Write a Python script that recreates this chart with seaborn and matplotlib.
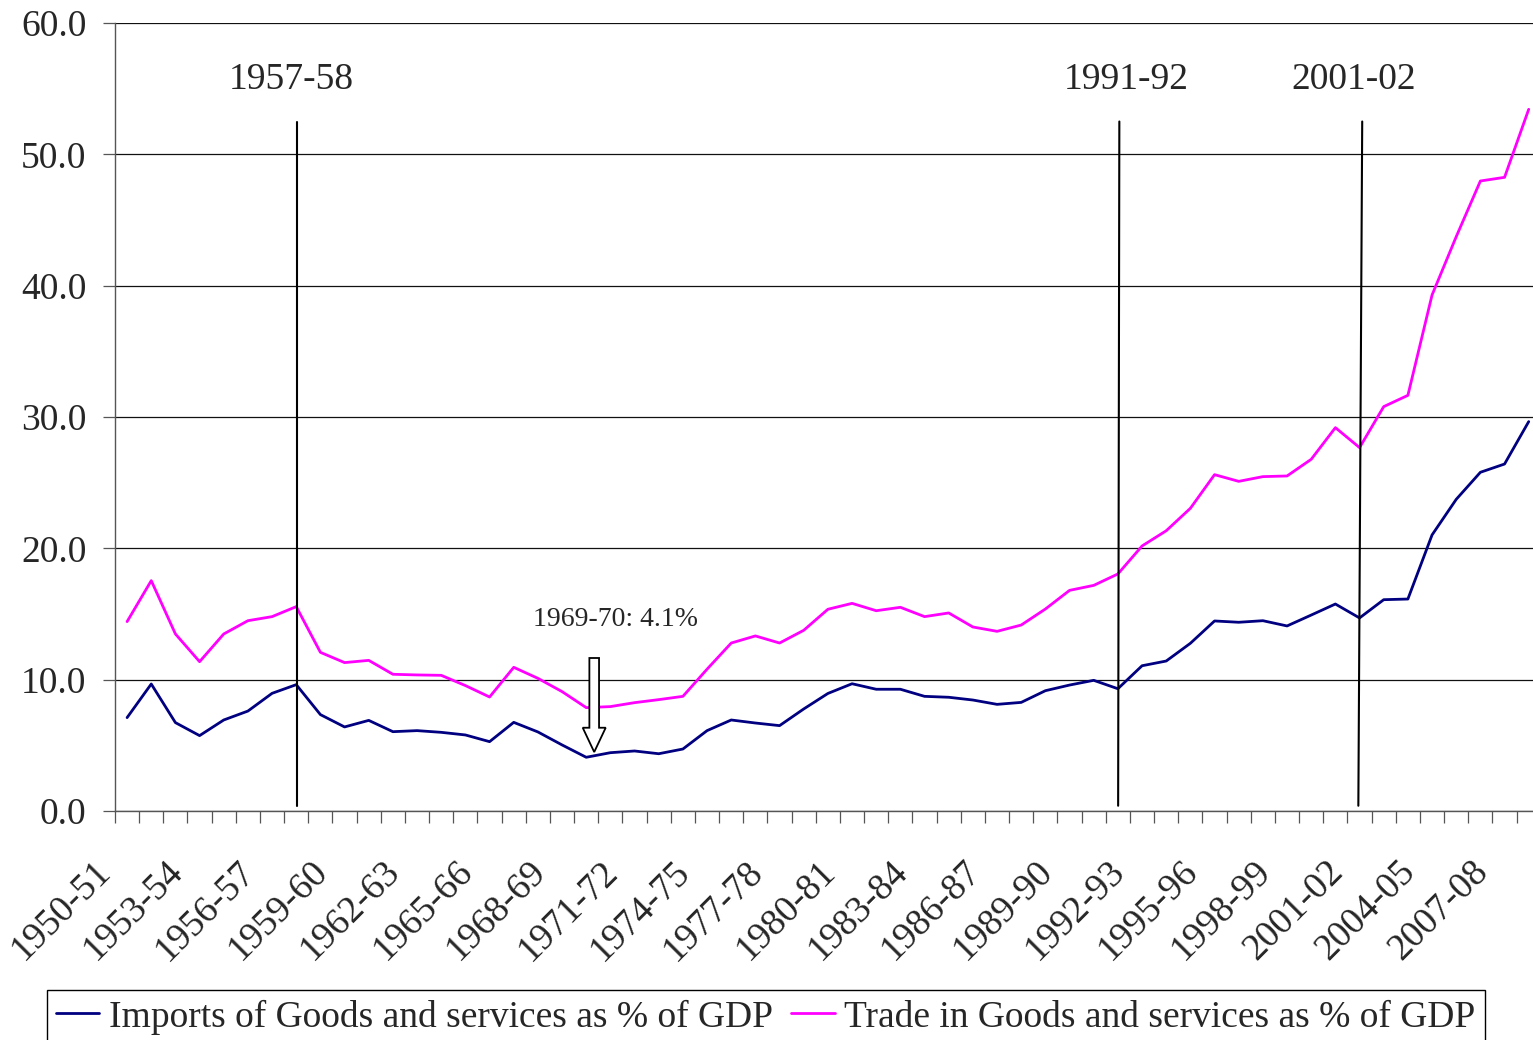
import numpy as np
import pandas as pd
import matplotlib
matplotlib.use("Agg")
import matplotlib.pyplot as plt
import matplotlib.transforms as mtransforms
from matplotlib.patches import FancyArrow
import seaborn as sns

# --- data ---
years = ["1950-51", "1951-52", "1952-53", "1953-54", "1954-55", "1955-56", "1956-57", "1957-58",
         "1958-59", "1959-60", "1960-61", "1961-62", "1962-63", "1963-64", "1964-65", "1965-66",
         "1966-67", "1967-68", "1968-69", "1969-70", "1970-71", "1971-72", "1972-73", "1973-74",
         "1974-75", "1975-76", "1976-77", "1977-78", "1978-79", "1979-80", "1980-81", "1981-82",
         "1982-83", "1983-84", "1984-85", "1985-86", "1986-87", "1987-88", "1988-89", "1989-90",
         "1990-91", "1991-92", "1992-93", "1993-94", "1994-95", "1995-96", "1996-97", "1997-98",
         "1998-99", "1999-00", "2000-01", "2001-02", "2002-03", "2003-04", "2004-05", "2005-06",
         "2006-07", "2007-08", "2008-09"]

imports = [7.11, 9.67, 6.73, 5.74, 6.93, 7.61, 8.96, 9.62, 7.34, 6.40,
           6.90, 6.04, 6.12, 5.99, 5.79, 5.28, 6.75, 6.02, 5.03, 4.09,
           4.44, 4.57, 4.36, 4.72, 6.12, 6.93, 6.70, 6.50, 7.77, 8.95,
           9.69, 9.27, 9.27, 8.73, 8.66, 8.45, 8.12, 8.27, 9.16, 9.59,
           9.95, 9.31, 11.06, 11.42, 12.77, 14.47, 14.37, 14.49, 14.09, 14.92,
           15.76, 14.70, 16.09, 16.14, 21.02, 23.73, 25.79, 26.42, 29.65]

trade = [14.42, 17.54, 13.48, 11.37, 13.48, 14.49, 14.80, 15.56, 12.08, 11.30,
         11.47, 10.41, 10.36, 10.33, 9.55, 8.68, 10.94, 10.10, 9.09, 7.87,
         7.95, 8.25, 8.48, 8.73, 10.80, 12.79, 13.33, 12.79, 13.76, 15.36,
         15.81, 15.25, 15.51, 14.80, 15.08, 14.01, 13.68, 14.16, 15.38, 16.80,
         17.18, 18.05, 20.18, 21.34, 23.05, 25.61, 25.10, 25.46, 25.51, 26.78,
         29.19, 27.67, 30.79, 31.65, 39.29, 43.73, 47.97, 48.25, 53.43]

series_names = ["Imports of Goods and services as % of GDP",
                "Trade in Goods and services as % of GDP"]
series_colors = ["#000080", "#FF00FF"]
marked_years = ["1957-58", "1991-92", "2001-02"]
low_year = "1969-70"

df = pd.DataFrame({"pos": np.arange(len(years)), "Year": years,
                   series_names[0]: imports, series_names[1]: trade})
long = df.melt(id_vars=["pos", "Year"], var_name="series", value_name="pct")

# --- style ---
sns.set_style("white")
plt.rcParams["font.family"] = ["Liberation Serif", "DejaVu Serif"]
plt.rcParams["mathtext.default"] = "regular"

fig = plt.figure(figsize=(15.33, 10.40), dpi=100)
ax = fig.add_axes([115 / 1533, 229 / 1040, 1425.8 / 1533, 788 / 1040])

sns.lineplot(data=long, x="pos", y="pct", hue="series", hue_order=series_names,
             palette=series_colors, linewidth=2.0, ax=ax, legend=True)

ax.set_xlim(-0.5, len(years) - 0.5)
ax.set_ylim(0, 60)
ax.set_xlabel("")
ax.set_ylabel("")

# y axis
ax.set_yticks(np.arange(0, 61, 10))
ax.set_yticklabels([f"{v:.1f}" for v in np.arange(0, 61, 10)])
ax.yaxis.grid(True, color="#111111", linewidth=0.9)
ax.xaxis.grid(False)
ax.tick_params(axis="y", direction="out", length=8.5, width=0.9, color="#555555",
               pad=12, labelsize=27, left=True)

# x axis: labels every 3rd category, small ticks at category boundaries
lab_pos = np.arange(0, len(years), 3)
ax.set_xticks(lab_pos)
ax.set_xticklabels([years[i] for i in lab_pos], rotation=45, ha="right",
                   va="center", rotation_mode="anchor")
ax.set_xticks(np.arange(-0.5, len(years), 1), minor=True)
ax.tick_params(axis="x", which="major", length=0, pad=40, labelsize=27)
ax.tick_params(axis="x", which="minor", direction="out", length=8.5, width=0.9,
               color="#555555", bottom=True)
shift = mtransforms.ScaledTranslation(-22 / 100, 0, fig.dpi_scale_trans)
for lab in ax.get_xticklabels():
    lab.set_transform(lab.get_transform() + shift)

for side in ["top", "right"]:
    ax.spines[side].set_visible(False)
for side in ["left", "bottom"]:
    ax.spines[side].set_color("#555555")
    ax.spines[side].set_linewidth(1.0)

# vertical marker lines with their labels
for yr, x0, slant, dx in zip(marked_years, [0.03, 0.01, -0.05], [0.0, 0.05, 0.16],
                             [-0.2, 0.35, -0.25]):
    i = years.index(yr)
    ax.plot([i + x0, i + x0 + slant], [0.4, 52.5], color="black", linewidth=1.5)
    ax.text(i + dx, 55.7, yr, ha="center", va="center", fontsize=27)

# low point annotation
li = years.index(low_year)
ax.text(li + 1.2, 14.6, f"{low_year}: {imports[li]:.1f}%", ha="center", va="center",
        fontsize=20)
ax.add_patch(FancyArrow(li + 0.33, 11.65, 0, -(11.65 - imports[li] - 0.4), width=0.4,
                        head_width=0.95, head_length=1.85, length_includes_head=True,
                        facecolor="white", edgecolor="black", linewidth=1.3, zorder=5))

# legend at the bottom of the figure, partly cut off like the original
handles, labels = ax.get_legend_handles_labels()
ax.get_legend().remove()
leg = fig.legend(handles, labels, ncol=2, loc="upper center",
                 bbox_to_anchor=(0.4995, 1 - 990 / 1040), fontsize=27,
                 frameon=True, fancybox=False, edgecolor="black", framealpha=1,
                 handlelength=1.15, handletextpad=0.25, columnspacing=0.5,
                 borderpad=0.25, borderaxespad=0)
leg.get_frame().set_linewidth(1.0)
for h in leg.get_lines():
    h.set_linewidth(2.0)

fig.savefig("out.png", dpi=100)
